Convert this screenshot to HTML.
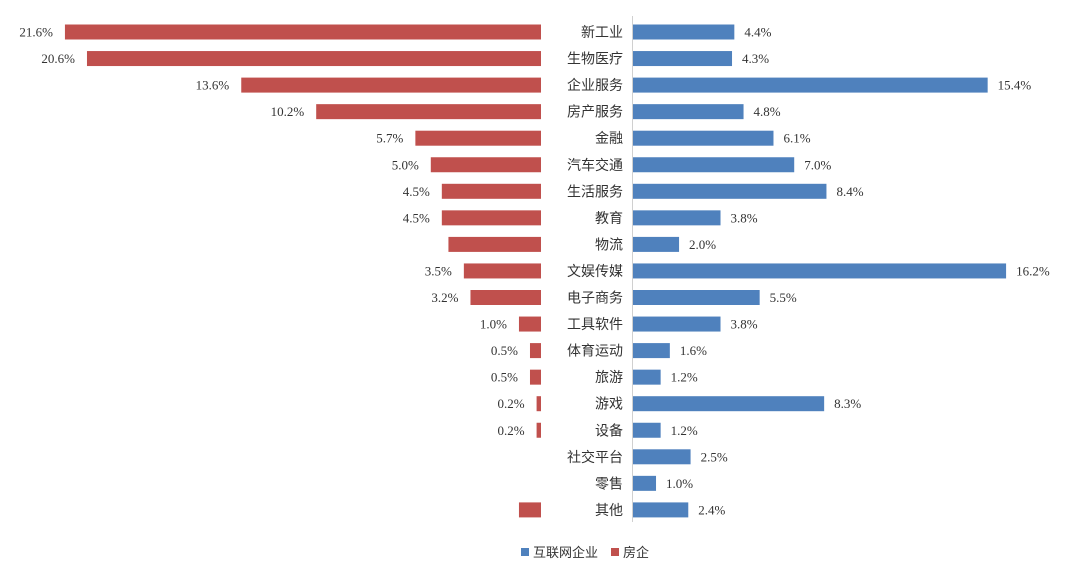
<!DOCTYPE html>
<html><head><meta charset="utf-8"><style>
body{margin:0;background:#fff;}
svg text{font-family:"Liberation Serif","Noto Serif CJK SC",serif;}
</style></head><body>
<svg width="1080" height="568" xmlns="http://www.w3.org/2000/svg">
<line x1="632.5" y1="16" x2="632.5" y2="522" stroke="#d0d0d0" stroke-width="1"/>
<g id="bars"></g>
<rect x="521" y="548" width="8" height="8" fill="#4F81BD"/>
<text x="533" y="557" font-size="13" fill="#333" style="font-family:'Liberation Sans','Noto Sans CJK SC',sans-serif">互联网企业</text>
<rect x="611" y="548" width="8" height="8" fill="#C0504D"/>
<text x="623" y="557" font-size="13" fill="#333" style="font-family:'Liberation Sans','Noto Sans CJK SC',sans-serif">房企</text>
</svg>
<script>
var d=[["新工业",21.6,4.4],["生物医疗",20.6,4.3],["企业服务",13.6,15.4],["房产服务",10.2,4.8],["金融",5.7,6.1],["汽车交通",5.0,7.0],["生活服务",4.5,8.4],["教育",4.5,3.8],["物流",4.2,2.0,1],["文娱传媒",3.5,16.2],["电子商务",3.2,5.5],["工具软件",1.0,3.8],["体育运动",0.5,1.6],["旅游",0.5,1.2],["游戏",0.2,8.3],["设备",0.2,1.2],["社交平台",0,2.5],["零售",0,1.0],["其他",1.0,2.4,1]];
var g=document.getElementById("bars"),h="";
d.forEach(function(r,i){
 var cy=32+i*26.55, y=cy-7.5;
 if(r[1]>0){var w=r[1]*22.04;h+='<rect x="'+(541-w)+'" y="'+y+'" width="'+w+'" height="15" fill="#C0504D"/>';
  if(!r[3])h+='<text x="'+(529-w)+'" y="'+(cy+4.5)+'" font-size="13" fill="#333" text-anchor="end">'+r[1].toFixed(1)+'%</text>';}
 var w2=r[2]*23.03;h+='<rect x="633" y="'+y+'" width="'+w2+'" height="15" fill="#4F81BD"/>';
 h+='<text x="'+(643+w2)+'" y="'+(cy+4.5)+'" font-size="13" fill="#333">'+r[2].toFixed(1)+'%</text>';
 h+='<text x="623" y="'+(cy+5)+'" font-size="14" fill="#333" text-anchor="end" style="font-family:\'Liberation Sans\',\'Noto Sans CJK SC\',sans-serif">'+r[0]+'</text>';
});
g.innerHTML=h;
</script>
</body></html>
